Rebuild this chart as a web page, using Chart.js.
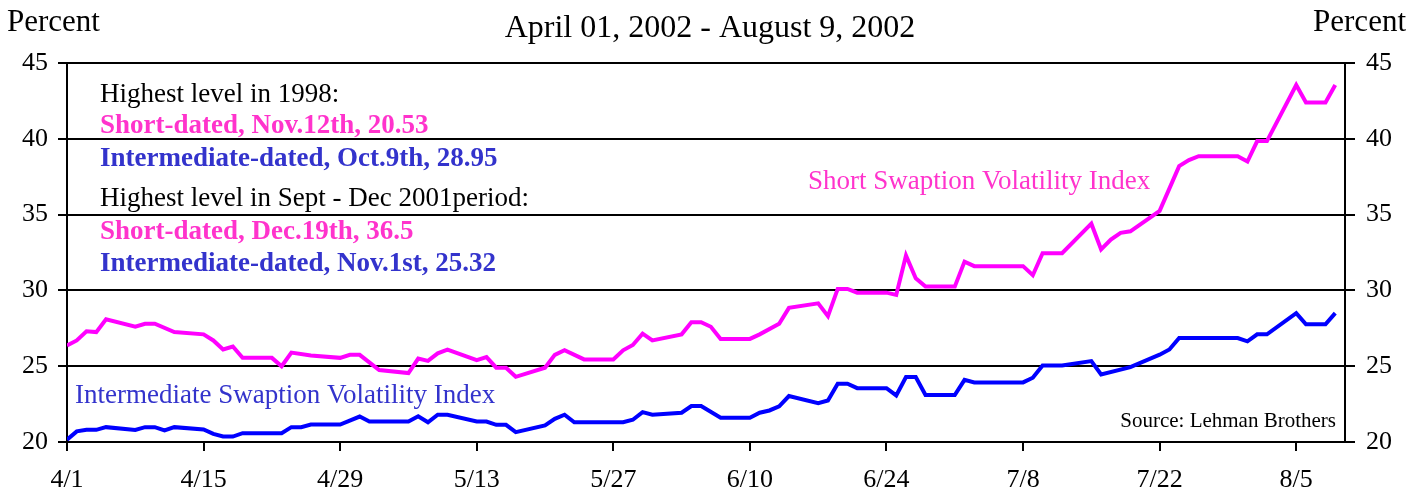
<!DOCTYPE html>
<html>
<head>
<meta charset="utf-8">
<script src="https://cdn.jsdelivr.net/npm/chart.js@4"></script>
<style>
  body { margin: 0; background: #fff; }
  #wrap { width: 1411px; height: 497px; }
</style>
</head>
<body>
<div id="wrap"><canvas id="myChart" width="1411" height="497"></canvas></div>
<script>
// short-dated swaption vol index (vertices)
const shortDates = ['4/1','4/2','4/3','4/4','4/5','4/8','4/9','4/10','4/12','4/15','4/16','4/17','4/18','4/19',
  '4/22','4/23','4/24','4/26','4/29','4/30','5/1','5/3','5/6','5/7','5/8','5/9','5/10','5/13','5/14','5/15',
  '5/16','5/17','5/20','5/21','5/22','5/24','5/27','5/28','5/29','5/30','5/31','6/3','6/4','6/5','6/6','6/7',
  '6/10','6/11','6/13','6/14','6/17','6/18','6/19','6/20','6/21','6/24','6/25','6/26','6/27','6/28','7/1',
  '7/2','7/3','7/8','7/9','7/10','7/12','7/15','7/16','7/17','7/18','7/19','7/22','7/24','7/25','7/26',
  '7/30','7/31','8/1','8/2','8/5','8/6','8/8','8/9'];
const shortVals = [26.37,26.7,27.3,27.25,28.1,27.6,27.8,27.8,27.25,27.1,26.7,26.1,26.3,25.55,
  25.55,25.0,25.9,25.7,25.55,25.75,25.75,24.75,24.55,25.5,25.35,25.85,26.1,25.4,25.6,24.9,
  24.9,24.3,24.9,25.75,26.05,25.45,25.45,26.05,26.4,27.15,26.7,27.1,27.9,27.9,27.6,26.8,
  26.8,27.1,27.8,28.85,29.15,28.3,30.1,30.1,29.85,29.85,29.7,32.3,30.8,30.25,30.25,
  31.9,31.6,31.6,31.0,32.45,32.45,34.4,32.7,33.35,33.8,33.9,35.25,38.2,38.6,38.85,
  38.85,38.5,39.85,39.85,43.55,42.4,42.4,43.55];

// intermediate swaption vol index
const interDates = ['4/1','4/2','4/3','4/4','4/5','4/8','4/9','4/10','4/11','4/12','4/15','4/16','4/17','4/18',
  '4/19','4/23','4/24','4/25','4/26','4/29','5/1','5/2','5/6','5/7','5/8','5/9','5/10','5/13','5/14','5/15',
  '5/16','5/17','5/20','5/21','5/22','5/23','5/28','5/29','5/30','5/31','6/3','6/4','6/5','6/7','6/10',
  '6/11','6/12','6/13','6/14','6/17','6/18','6/19','6/20','6/21','6/24','6/25','6/26','6/27','6/28','7/1',
  '7/2','7/3','7/8','7/9','7/10','7/12','7/15','7/16','7/19','7/22','7/23','7/24','7/30','7/31','8/1',
  '8/2','8/5','8/6','8/8','8/9'];
const interVals = [20.15,20.7,20.8,20.8,20.98,20.8,20.98,20.98,20.76,20.98,20.83,20.54,20.36,20.36,
  20.58,20.58,20.98,20.98,21.15,21.15,21.68,21.35,21.35,21.7,21.3,21.8,21.8,21.35,21.35,21.13,
  21.13,20.65,21.1,21.53,21.8,21.3,21.3,21.47,21.97,21.8,21.93,22.37,22.37,21.6,21.6,
  21.93,22.08,22.35,23.03,22.56,22.74,23.84,23.84,23.55,23.55,23.07,24.28,24.28,23.1,23.1,
  24.1,23.93,23.93,24.24,25.05,25.05,25.34,24.46,24.94,25.76,26.1,26.86,26.86,26.64,27.1,
  27.1,28.5,27.76,27.76,28.5];

const tickDates = ['4/1','4/15','4/29','5/13','5/27','6/10','6/24','7/8','7/22','8/5'];
const axisEnd = '8/10';

// days since April 1st 2002
function dayOf(s) {
  const p = s.split('/');
  return (Date.UTC(2002, +p[0] - 1, +p[1]) - Date.UTC(2002, 3, 1)) / 864e5;
}

const SERIF = "'Liberation Serif', 'Times New Roman', serif";
const PINK_TXT = '#FF33CC';
const BLUE_TXT = '#3333CC';

const textPlugin = {
  id: 'notes',
  afterDraw(chart) {
    const ctx = chart.ctx;
    ctx.save();
    ctx.textBaseline = 'alphabetic';
    function t(str, x, y, font, color, align) {
      ctx.font = font;
      ctx.fillStyle = color;
      ctx.textAlign = align || 'left';
      ctx.fillText(str, x, y);
    }
    t('Percent', 7, 31, '31px ' + SERIF, '#000');
    t('Percent', 1406, 31, '31px ' + SERIF, '#000', 'right');
    t('April 01, 2002 - August 9, 2002', 710, 37, '32px ' + SERIF, '#000', 'center');

    t('Highest level in 1998:', 100, 102, '27px ' + SERIF, '#000');
    t('Short-dated, Nov.12th, 20.53', 100, 133, 'bold 27px ' + SERIF, PINK_TXT);
    t('Intermediate-dated, Oct.9th, 28.95', 100, 166, 'bold 27px ' + SERIF, BLUE_TXT);
    t('Highest level in Sept - Dec 2001period:', 100, 206, '27px ' + SERIF, '#000');
    t('Short-dated, Dec.19th, 36.5', 100, 239, 'bold 27px ' + SERIF, PINK_TXT);
    t('Intermediate-dated, Nov.1st, 25.32', 100, 271, 'bold 27px ' + SERIF, BLUE_TXT);

    t('Short Swaption Volatility Index', 808, 189, '27px ' + SERIF, PINK_TXT);
    t('Intermediate Swaption Volatility Index', 75, 403, '27px ' + SERIF, BLUE_TXT);
    t('Source: Lehman Brothers', 1336, 427, '21px ' + SERIF, '#000', 'right');
    ctx.restore();
  }
};

const data = {
  datasets: [
    {
      label: 'Short Swaption Volatility Index',
      data: shortDates.map((d, i) => ({ x: dayOf(d), y: shortVals[i] })),
      borderColor: '#FF00FF',
      borderWidth: 4,
      pointRadius: 0,
      tension: 0,
      yAxisID: 'y'
    },
    {
      label: 'Intermediate Swaption Volatility Index',
      data: interDates.map((d, i) => ({ x: dayOf(d), y: interVals[i] })),
      borderColor: '#0000FF',
      borderWidth: 4,
      pointRadius: 0,
      tension: 0,
      yAxisID: 'y'
    }
  ]
};

const tickFont = { family: SERIF, size: 26 };

const config = {
  type: 'line',
  data: data,
  plugins: [textPlugin],
  options: {
    responsive: false,
    animation: false,
    layout: { padding: { top: 63 } },
    plugins: {
      legend: { display: false },
      tooltip: { enabled: false }
    },
    scales: {
      x: {
        type: 'linear',
        min: 0,
        max: dayOf(axisEnd),
        afterBuildTicks: s => { s.ticks = tickDates.map(d => ({ value: dayOf(d) })); },
        afterFit: s => { s.height = 55; },
        ticks: {
          callback: v => tickDates.find(d => dayOf(d) === v) || '',
          font: tickFont,
          color: '#000',
          padding: 14,
          maxRotation: 0,
          autoSkip: false
        },
        grid: { drawOnChartArea: false, drawTicks: true, tickLength: 9, color: '#000', lineWidth: 2 },
        border: { display: true, color: '#000', width: 2 }
      },
      y: {
        position: 'left',
        min: 20,
        max: 45,
        afterFit: s => { s.width = 67; },
        ticks: { stepSize: 5, font: tickFont, color: '#000', padding: 10 },
        grid: { color: '#000', lineWidth: 2, tickLength: 9 },
        border: { display: true, color: '#000', width: 2 }
      },
      y2: {
        position: 'right',
        min: 20,
        max: 45,
        afterFit: s => { s.width = 66; },
        ticks: { stepSize: 5, font: tickFont, color: '#000', padding: 11 },
        grid: { drawOnChartArea: false, color: '#000', lineWidth: 2, tickLength: 10 },
        border: { display: true, color: '#000', width: 2 }
      }
    }
  }
};

new Chart(document.getElementById('myChart'), config);
</script>
</body>
</html>
